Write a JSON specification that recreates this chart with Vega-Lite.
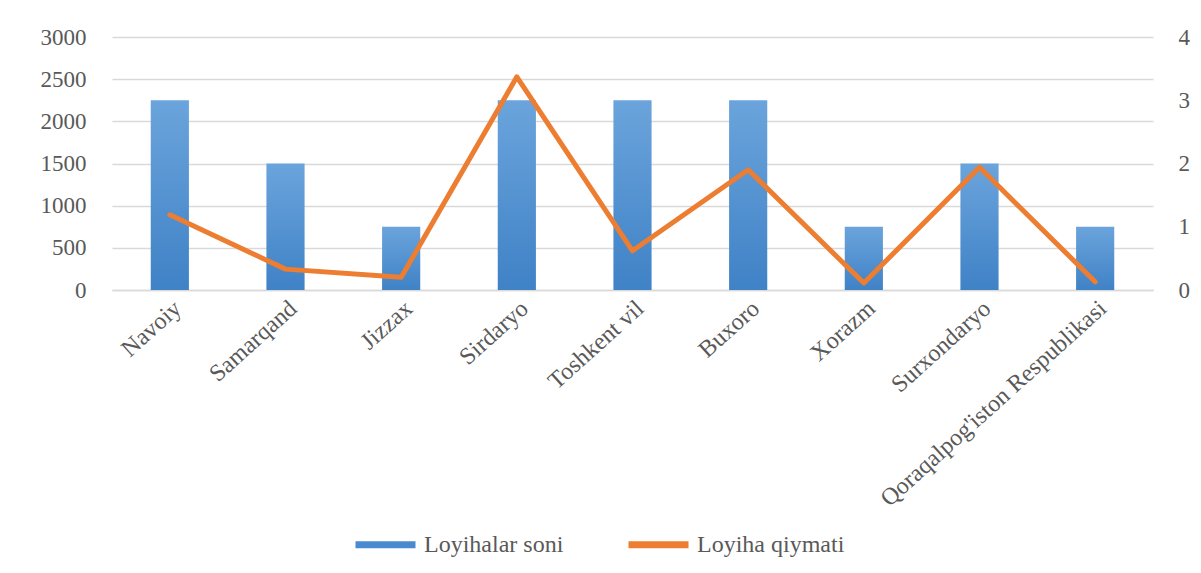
{
  "$schema": "https://vega.github.io/schema/vega-lite/v6.json",
  "width": 1041,
  "height": 253,
  "autosize": {"type": "none"},
  "padding": {"left": 112, "top": 37, "right": 48, "bottom": 283},
  "background": "white",
  "data": {
    "values": [
      {"region": "Navoiy", "soni": 2250, "qiymati": 1.19},
      {"region": "Samarqand", "soni": 1500, "qiymati": 0.33},
      {"region": "Jizzax", "soni": 750, "qiymati": 0.2},
      {"region": "Sirdaryo", "soni": 2250, "qiymati": 3.37},
      {"region": "Toshkent vil", "soni": 2250, "qiymati": 0.62},
      {"region": "Buxoro", "soni": 2250, "qiymati": 1.9},
      {"region": "Xorazm", "soni": 750, "qiymati": 0.11},
      {"region": "Surxondaryo", "soni": 1500, "qiymati": 1.94},
      {"region": "Qoraqalpog'iston Respublikasi", "soni": 750, "qiymati": 0.13}
    ]
  },
  "encoding": {
    "x": {
      "field": "region",
      "type": "nominal",
      "sort": null,
      "title": null,
      "scale": {"paddingInner": 0.67, "paddingOuter": 0.335},
      "axis": {
        "labelAngle": -42,
        "labelFont": "Liberation Serif",
        "labelFontSize": 24,
        "labelColor": "#595959",
        "labelPadding": 6,
        "ticks": false,
        "domainColor": "#d9d9d9",
        "domainWidth": 1.5,
        "labelLimit": 500
      }
    }
  },
  "layer": [
    {
      "mark": {
        "type": "bar",
        "color": {
          "gradient": "linear",
          "x1": 0, "y1": 0, "x2": 0, "y2": 1,
          "stops": [
            {"offset": 0, "color": "#6ba4dc"},
            {"offset": 1, "color": "#3f82c6"}
          ]
        }
      },
      "encoding": {
        "y": {
          "field": "soni",
          "type": "quantitative",
          "title": null,
          "scale": {"domain": [0, 3000]},
          "axis": {
            "values": [0, 500, 1000, 1500, 2000, 2500, 3000],
            "format": "d",
            "labelFont": "Liberation Serif",
            "labelFontSize": 23,
            "labelColor": "#595959",
            "labelPadding": 26,
            "ticks": false,
            "domain": false,
            "gridColor": "#d9d9d9",
            "gridWidth": 1.5
          }
        }
      }
    },
    {
      "mark": {"type": "line", "strokeWidth": 5, "strokeCap": "round", "strokeJoin": "round"},
      "encoding": {
        "y": {
          "field": "qiymati",
          "type": "quantitative",
          "title": null,
          "scale": {"domain": [0, 4]},
          "axis": {
            "orient": "right",
            "values": [0, 1, 2, 3, 4],
            "labelFont": "Liberation Serif",
            "labelFontSize": 23,
            "labelColor": "#595959",
            "labelPadding": 25,
            "ticks": false,
            "domain": false,
            "grid": false
          }
        },
        "color": {
          "datum": "Loyiha qiymati",
          "scale": {
            "domain": ["Loyihalar soni", "Loyiha qiymati"],
            "range": ["#4a8bd0", "#ed7d31"]
          },
          "legend": {
            "title": null,
            "orient": "none",
            "direction": "horizontal",
            "legendX": 240,
            "legendY": 474,
            "symbolType": "stroke",
            "symbolSize": 3600,
            "symbolStrokeWidth": 7,
            "labelFont": "Liberation Serif",
            "labelFontSize": 24,
            "labelColor": "#595959",
            "labelOffset": 5,
            "columnPadding": 50
          }
        }
      }
    }
  ],
  "resolve": {"scale": {"y": "independent"}},
  "config": {"view": {"stroke": null}}
}
